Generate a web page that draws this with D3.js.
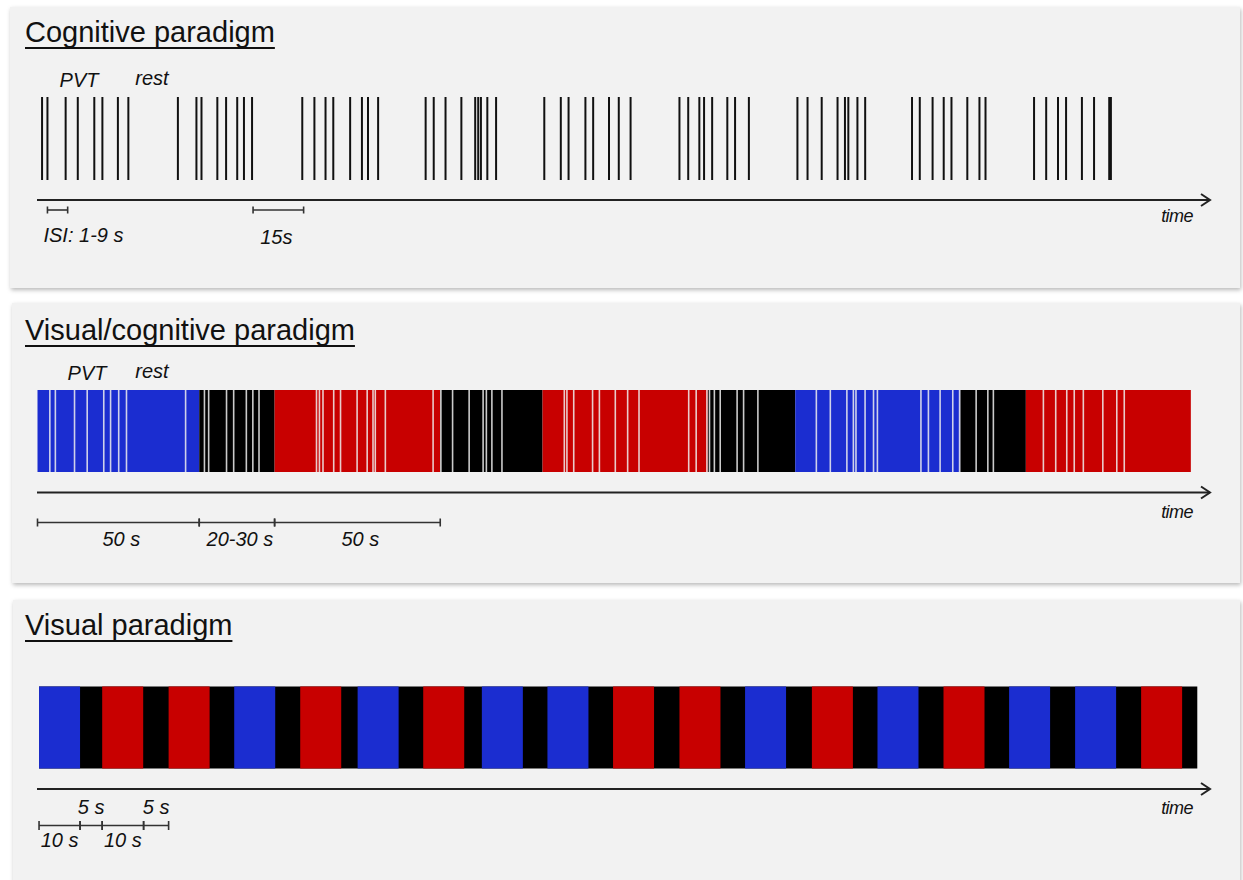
<!DOCTYPE html>
<html>
<head>
<meta charset="utf-8">
<script src="https://cdn.jsdelivr.net/npm/d3@7"></script>
<style>
  body { margin: 0; background: #fff; }
  svg { display: block; }
  text { font-family: "Liberation Sans", Arial, Helvetica, sans-serif; fill: #111; }
</style>
</head>
<body>
<svg id="chart" width="1243" height="880"></svg>
<script>
// ---- data (seconds) ----
// cognitive paradigm: PVT stimulus onsets
const cogTimes = [
  1.5, 3.1, 8.5, 12.1, 17.0, 19.4, 24.0, 27.1,
  41.8, 47.3, 48.8, 53.5, 56.1, 59.4, 61.4, 63.8,
  78.7, 82.3, 85.6, 87.9, 92.9, 96.4, 98.2, 101.2,
  115.3, 117.7, 121.2, 125.9, 130.0, 130.9, 131.7, 133.6, 136.2,
  150.5, 155.4, 157.7, 162.7, 165.0, 169.7, 172.6, 176.1,
  190.6, 193.2, 196.5, 197.9, 200.3, 204.8, 207.1, 211.2,
  225.6, 228.6, 232.8, 237.5, 239.7, 240.7, 243.4, 245.7,
  259.6, 261.9, 265.7, 269.0, 271.3, 276.0, 279.6, 281.4,
  295.8, 299.4, 302.9, 305.3, 310.0, 313.6, 318.1, 318.6
];
const cogBrackets = [[3.1, 9.1], [64.1, 79.1]];
const cogBracketLabels = ["ISI: 1-9 s", "15s"];

// visual/cognitive paradigm: colour blocks + PVT flashes
const vcStarts = [0, 49.8, 73.0, 124.0, 155.5, 206.4, 233.3, 284.1, 304.3];
const vcEnds   = [49.8, 73.0, 124.0, 155.5, 206.4, 233.3, 284.1, 304.3, 355.1];
const vcColors = ["blue", "black", "red", "black", "red", "black", "blue", "black", "red"];
const vcFlashes = [
  3.8, 5.5, 11.4, 15.3, 20.4, 22.5, 25.0, 27.4, 45.6,
  51.4, 52.7, 58.2, 60.4, 64.3, 66.3, 68.2,
  85.9, 86.8, 87.9, 91.2, 93.3, 98.4, 101.5, 103.3, 104.0, 107.1, 121.8,
  124.2, 127.8, 132.9, 137.2, 138.2, 139.9, 143.0,
  162.2, 163.0, 165.1, 170.9, 173.0, 177.9, 181.7, 185.2, 200.5, 202.8, 206.1,
  206.9, 208.4, 210.2, 215.4, 217.4, 221.8,
  239.8, 244.1, 249.2, 251.2, 252.0, 254.8, 257.4, 258.6, 272.0, 274.3, 277.9, 281.8, 283.9,
  289.0, 292.6, 294.3,
  309.7, 313.5, 316.9, 319.2, 322.0, 328.0, 332.3, 334.6
];
const vcBracketTicks = [0, 49.8, 73.0, 124.0];
const vcBracketLabels = ["50 s", "20-30 s", "50 s"];

// visual paradigm: 10 s colour blocks separated by ~5 s black
const visOnsets = [0, 15.4, 31.6, 47.6, 63.7, 77.7, 93.7, 108, 124, 140, 156.2, 172.2, 188.5, 204.5, 220.6, 236.6, 252.7, 268.8];
const visColors = ["blue", "red", "red", "blue", "red", "blue", "red", "blue", "blue", "red", "red", "blue", "red", "blue", "red", "blue", "blue", "red"];
const visBlockLen = 10;
const visEnd = 282.5;
const visBracketTicks = [0, 10, 15.4, 25.5, 31.6];
const visBracketLabels = ["10 s", "5 s", "10 s", "5 s"];

const palette = { blue: "#1b2dd0", red: "#c80000", black: "#000" };

// ---- drawing ----
const svg = d3.select("#chart");
const defs = svg.append("defs");
const filt = defs.append("filter").attr("id", "shadow")
  .attr("x", "-2%").attr("y", "-5%").attr("width", "104%").attr("height", "115%");
filt.append("feDropShadow").attr("dx", 1).attr("dy", 2).attr("stdDeviation", 2)
  .attr("flood-color", "#000").attr("flood-opacity", 0.28);

function panel(x, y, w, h, title, titleY) {
  svg.append("rect").attr("x", x).attr("y", y).attr("width", w).attr("height", h)
    .attr("fill", "#f2f2f2").attr("filter", "url(#shadow)");
  const t = svg.append("text").attr("x", 25).attr("y", titleY)
    .attr("font-size", 29).text(title);
  const tw = t.node().getComputedTextLength();
  svg.append("line").attr("x1", 25).attr("x2", 25 + tw)
    .attr("y1", titleY + 6).attr("y2", titleY + 6)
    .attr("stroke", "#111").attr("stroke-width", 2);
}

function timeArrow(y, timeY) {
  svg.append("line").attr("x1", 37).attr("x2", 1210).attr("y1", y).attr("y2", y)
    .attr("stroke", "#222").attr("stroke-width", 2);
  svg.append("path").attr("d", `M1201,${y - 6} L1210,${y} L1201,${y + 6}`)
    .attr("fill", "none").attr("stroke", "#222").attr("stroke-width", 2);
  svg.append("text").attr("x", 1177).attr("y", timeY).attr("text-anchor", "middle")
    .attr("font-size", 18).attr("font-style", "italic").attr("letter-spacing", -0.6).text("time");
}

function bracket(x0, x1, y, tick) {
  const g = svg.append("g").attr("stroke", "#333").attr("stroke-width", 1.6);
  g.append("line").attr("x1", x0).attr("x2", x1).attr("y1", y).attr("y2", y);
  [x0, x1].forEach(v => g.append("line").attr("x1", v).attr("x2", v)
    .attr("y1", y - tick).attr("y2", y + tick));
}

function italic(x, y, s, anchor) {
  svg.append("text").attr("x", x).attr("y", y).attr("text-anchor", anchor || "middle")
    .attr("font-size", 20).attr("font-style", "italic").text(s);
}

// Panel 1: cognitive paradigm
panel(10, 7, 1230, 281, "Cognitive paradigm", 42);
const x1 = d3.scaleLinear().domain([0, 348]).range([37, 1210]);
svg.append("g").selectAll("line").data(cogTimes).join("line")
  .attr("x1", d => x1(d)).attr("x2", d => x1(d))
  .attr("y1", 97).attr("y2", 180)
  .attr("stroke", "#111").attr("stroke-width", 2);
italic(79, 87, "PVT");
italic(152, 85, "rest");
timeArrow(200, 222);
cogBrackets.forEach((b, i) => bracket(x1(b[0]), x1(b[1]), 210, 3.5));
italic(x1(cogBrackets[0][0]) - 4, 242, cogBracketLabels[0], "start");
italic((x1(cogBrackets[1][0]) + x1(cogBrackets[1][1])) / 2 - 2, 244, cogBracketLabels[1]);

// Panel 2: visual/cognitive paradigm
panel(12, 303, 1228, 280, "Visual/cognitive paradigm", 340);
const x2 = d3.scaleLinear().domain([0, 361]).range([37.5, 1210]);
svg.append("g").selectAll("rect").data(vcStarts).join("rect")
  .attr("x", d => x2(d))
  .attr("width", (d, i) => x2(vcEnds[i]) - x2(d))
  .attr("y", 390).attr("height", 82)
  .attr("fill", (d, i) => palette[vcColors[i]]);
svg.append("g").selectAll("line").data(vcFlashes).join("line")
  .attr("x1", d => x2(d)).attr("x2", d => x2(d))
  .attr("y1", 390).attr("y2", 472)
  .attr("stroke", "#eeeeee").attr("stroke-opacity", 0.85).attr("stroke-width", 1.6);
italic(87, 380, "PVT");
italic(152, 378, "rest");
timeArrow(492.5, 518);
bracket(x2(vcBracketTicks[0]), x2(vcBracketTicks[vcBracketTicks.length - 1]), 522.5, 4);
vcBracketTicks.slice(1, -1).forEach(t => bracket(x2(t), x2(t), 522.5, 4));
vcBracketLabels.forEach((s, i) =>
  italic((x2(vcBracketTicks[i]) + x2(vcBracketTicks[i + 1])) / 2 + 3, 546, s));

// Panel 3: visual paradigm
panel(13, 600, 1227, 300, "Visual paradigm", 635);
const x3 = d3.scaleLinear().domain([-0.5, 285.6]).range([37, 1210]);
svg.append("rect").attr("x", x3(0)).attr("width", x3(visEnd) - x3(0))
  .attr("y", 686.5).attr("height", 82).attr("fill", palette.black);
svg.append("g").selectAll("rect").data(visOnsets).join("rect")
  .attr("x", d => x3(d)).attr("width", d => x3(d + visBlockLen) - x3(d))
  .attr("y", 686.5).attr("height", 82)
  .attr("fill", (d, i) => palette[visColors[i]]);
timeArrow(789, 814);
bracket(x3(visBracketTicks[0]), x3(visBracketTicks[visBracketTicks.length - 1]), 825.5, 4.5);
visBracketTicks.slice(1, -1).forEach(t => bracket(x3(t), x3(t), 825.5, 4.5));
visBracketLabels.forEach((s, i) => {
  const cx = (x3(visBracketTicks[i]) + x3(visBracketTicks[i + 1])) / 2;
  if (i % 2 === 0) italic(cx, 847, s);
  else italic(cx, 814, s);
});
</script>
</body>
</html>
